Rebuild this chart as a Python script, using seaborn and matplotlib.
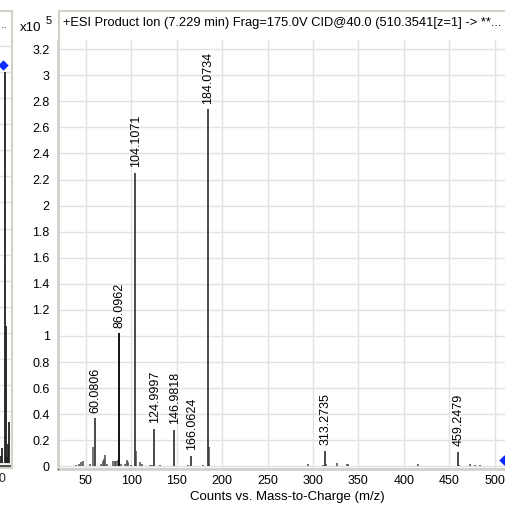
import numpy as np
import pandas as pd
import matplotlib
matplotlib.use("Agg")
import matplotlib.pyplot as plt
from matplotlib.patches import Rectangle
from matplotlib.ticker import FuncFormatter
import seaborn as sns

# ---------------- data (intensity in units of 1e5 counts) ----------------
label_mz = [60.0806, 86.0962, 104.1071, 124.9997, 146.9818, 166.0624, 184.0734, 313.2735, 459.2479]
label_int = [0.37, 1.02, 2.25, 0.29, 0.28, 0.08, 2.74, 0.12, 0.11]

minor_mz = [39.0, 41.9, 44.8, 46.3, 55.0, 57.5, 66.6, 68.4, 70.3, 71.4, 73.2, 80.1, 81.9,
            83.7, 85.5, 89.2, 92.8, 95.0, 96.8, 99.4, 104.9, 109.5, 112.0, 120.5, 123.0,
            132.0, 134.0, 162.3, 179.4, 185.0, 186.0, 198.5, 203.0, 221.6, 240.0, 257.5,
            280.0, 294.9, 311.4, 314.4, 326.1, 337.1, 339.0, 353.6, 368.3, 415.2, 461.0,
            472.8, 478.3, 483.8, 502.0]
minor_int = [0.01, 0.02, 0.03, 0.045, 0.015, 0.15, 0.02, 0.04, 0.06, 0.085, 0.02, 0.04, 0.04,
             0.045, 0.05, 0.02, 0.015, 0.05, 0.03, 0.01, 0.12, 0.03, 0.015, 0.01, 0.01,
             0.01, 0.005, 0.01, 0.01, 0.145, 0.02, 0.005, 0.004, 0.004, 0.005, 0.005,
             0.004, 0.02, 0.01, 0.02, 0.025, 0.02, 0.015, 0.005, 0.004, 0.015, 0.01,
             0.02, 0.01, 0.008, 0.005]

precursor_mz = [510.3541]
precursor_int = [0.05]

# left (cropped) neighbour panel
left_mz = [509.4, 511.0, 516.2, 517.6, 519.6, 521.5, 523.0]
left_int = [0.06, 0.12, 3.00, 1.05, 0.05, 0.15, 0.32]
left_prec_mz = [512.8]
left_prec_int = [3.05]

title = "+ESI Product Ion (7.229 min) Frag=175.0V CID@40.0 (510.3541[z=1] -> **..."
xlabel = "Counts vs. Mass-to-Charge (m/z)"
xticks = [50, 100, 150, 200, 250, 300, 350, 400, 450, 500]
yticks = [0, 0.2, 0.4, 0.6, 0.8, 1, 1.2, 1.4, 1.6, 1.8, 2, 2.2, 2.4, 2.6, 2.8, 3, 3.2]

# ---------------- figure ----------------
sns.set_theme(style="white")
plt.rcParams['font.family'] = ['Liberation Sans', 'DejaVu Sans']

W, H = 506, 505
fig = plt.figure(figsize=(W / 100, H / 100), dpi=100)
fig.patch.set_facecolor("white")


def rect(l, t, r, b):
    return [l / W, 1 - b / H, (r - l) / W, (b - t) / H]


grid_c = "#e2e2e2"
frame_c = "#d4d1cb"

# main axes
ax = fig.add_axes(rect(58, 40, 516, 469))
ax.set_xlim(19.3, 523.5)
ax.set_ylim(-0.02, 3.27)
ax.set_xticks(xticks)
ax.set_yticks(yticks)
ax.yaxis.set_major_formatter(FuncFormatter(lambda v, p: "%g" % v))
ax.grid(True, color=grid_c, lw=1)
ax.set_axisbelow(True)
for s in ["top", "right"]:
    ax.spines[s].set_visible(False)
for s in ["left", "bottom"]:
    ax.spines[s].set_color("#333333")
    ax.spines[s].set_linewidth(1.0)
ax.tick_params(axis="both", direction="out", length=4, width=0.9, color="#333333",
               labelsize=9, labelcolor="black", pad=2)
ax.tick_params(axis="x", length=3, pad=1)
ax.set_xlabel(xlabel, fontsize=9.5, color="black", labelpad=3.5)

df_minor = pd.DataFrame({"mz": minor_mz, "int": minor_int})
df_lab = pd.DataFrame({"mz": label_mz, "int": label_int})

ax.vlines(df_minor["mz"], 0, df_minor["int"], color="#4a4a4a", lw=1.1)
colors = ["#3c3c3c" if m != 86.0962 else "black" for m in label_mz]
ax.vlines(df_lab["mz"], 0, df_lab["int"], color=colors, lw=1.3)
for m, v in zip(label_mz, label_int):
    ax.annotate("%.4f" % m, (m, v), xytext=(0.5, 4), textcoords="offset points",
                rotation=90, ha="center", va="bottom", fontsize=9, color="black")

sns.scatterplot(x=precursor_mz, y=precursor_int, ax=ax, marker="D", s=28,
                color="#0a2bff", edgecolor="#0a2bff", linewidth=0, zorder=5, clip_on=False)

# left cropped panel
axl = fig.add_axes(rect(-300, 40, 12, 466))
axl.set_xlim(0, 528)
axl.set_ylim(-0.02, 3.245)
axl.set_xticks([450, 500])
axl.set_yticks(yticks)
axl.set_yticklabels([])
axl.grid(True, axis="y", color=grid_c, lw=1)
axl.set_axisbelow(True)
for s in ["top", "right", "left"]:
    axl.spines[s].set_visible(False)
axl.spines["bottom"].set_color("#333333")
axl.tick_params(axis="x", labelsize=9, length=3, pad=2)
axl.vlines(left_mz, 0, left_int, color="#222222", lw=1.3)
sns.scatterplot(x=left_prec_mz, y=left_prec_int, ax=axl, marker="D", s=28,
                color="#0a2bff", linewidth=0, zorder=5, clip_on=False)

# panel frames
fig.patches.append(Rectangle((59 / W, 1 - 469 / H), 600 / W, 458 / H, transform=fig.transFigure,
                             fill=False, edgecolor=frame_c, lw=1.5, zorder=0))
fig.patches.append(Rectangle((-50 / W, 1 - 468 / H), 62 / W, 457 / H, transform=fig.transFigure,
                             fill=False, edgecolor=frame_c, lw=1.5, zorder=0))

# titles
fig.text(63 / W, 1 - 23 / H, title, fontsize=9.3, ha="left", va="center", color="black")
fig.text(1 / W, 1 - 25 / H, "..", fontsize=9.5, ha="left", va="center", color="#555555")
fig.text(20 / W, 1 - 28 / H, "x10", fontsize=9.5, ha="left", va="center", color="black")
fig.text(46 / W, 1 - 21 / H, "5", fontsize=8, ha="left", va="center", color="black")

fig.savefig("out.png", dpi=100)
